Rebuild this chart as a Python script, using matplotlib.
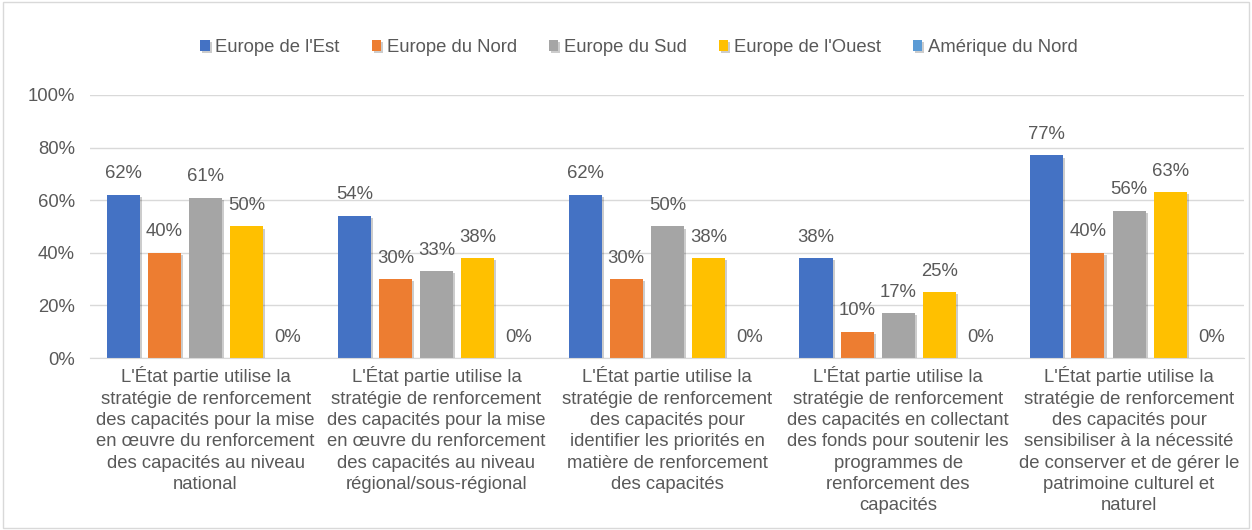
import matplotlib
matplotlib.use("Agg")
import matplotlib.pyplot as plt
import matplotlib.patheffects as pe
from matplotlib.patches import Rectangle
import numpy as np

plt.rcParams['font.family'] = ['Liberation Sans', 'DejaVu Sans']

categories = [
    "L'État partie utilise la\nstratégie de renforcement\ndes capacités pour la mise\nen œuvre du renforcement\ndes capacités au niveau\nnational",
    "L'État partie utilise la\nstratégie de renforcement\ndes capacités pour la mise\nen œuvre du renforcement\ndes capacités au niveau\nrégional/sous-régional",
    "L'État partie utilise la\nstratégie de renforcement\ndes capacités pour\nidentifier les priorités en\nmatière de renforcement\ndes capacités",
    "L'État partie utilise la\nstratégie de renforcement\ndes capacités en collectant\ndes fonds pour soutenir les\nprogrammes de\nrenforcement des\ncapacités",
    "L'État partie utilise la\nstratégie de renforcement\ndes capacités pour\nsensibiliser à la nécessité\nde conserver et de gérer le\npatrimoine culturel et\nnaturel",
]
series_names = ["Europe de l'Est", "Europe du Nord", "Europe du Sud", "Europe de l'Ouest", "Amérique du Nord"]
europe_est = [0.62, 0.54, 0.62, 0.38, 0.77]
europe_nord = [0.40, 0.30, 0.30, 0.10, 0.40]
europe_sud = [0.61, 0.33, 0.50, 0.17, 0.56]
europe_ouest = [0.50, 0.38, 0.38, 0.25, 0.63]
amerique_nord = [0.0, 0.0, 0.0, 0.0, 0.0]
colors = ["#4472C4", "#ED7D31", "#A5A5A5", "#FFC000", "#5B9BD5"]

series = [europe_est, europe_nord, europe_sud, europe_ouest, amerique_nord]
text_color = "#595959"
fs = 13.3

fig = plt.figure(figsize=(12.52, 5.30), dpi=100)
ax = fig.add_axes([0.072, 0.3245, 0.922, 0.4963])

x = np.arange(len(categories))
step = 0.178
width = 0.143
for i, (vals, name, c) in enumerate(zip(series, series_names, colors)):
    pos = x + (i - 2) * step
    bars = ax.bar(pos, vals, width=width, color=c, label=name, zorder=3)
    for b in bars:
        b.set_path_effects([pe.SimplePatchShadow(offset=(1.5, -1.5), shadow_rgbFace='#000000', alpha=0.2), pe.Normal()])
    for p, v in zip(pos, vals):
        ax.annotate(f"{v*100:.0f}%", (p, v), xytext=(0, 9), textcoords="offset points",
                    ha="center", va="bottom", fontsize=fs, color=text_color)

ax.set_ylim(0, 1)
ax.set_xlim(-0.5, len(categories) - 0.5)
ax.set_yticks(np.arange(0, 1.01, 0.2))
ax.set_yticklabels([f"{int(round(t*100))}%" for t in np.arange(0, 1.01, 0.2)])
ax.set_xticks(x)
ax.set_xticklabels(categories, fontsize=fs, color=text_color, linespacing=1.33)
ax.tick_params(axis='both', length=0, labelsize=fs, labelcolor=text_color)
ax.tick_params(axis='y', pad=11)
ax.tick_params(axis='x', pad=6)
ax.grid(axis='y', color='#D9D9D9', linewidth=1, zorder=0)
for s in ['top', 'right', 'left']:
    ax.spines[s].set_visible(False)
ax.spines['bottom'].set_color('#D9D9D9')
ax.spines['bottom'].set_zorder(4)

leg = fig.legend(loc='center', bbox_to_anchor=(0.5104, 0.91), ncol=5, frameon=False,
                 fontsize=fs, handlelength=0.5, handleheight=0.5, handletextpad=0.3,
                 columnspacing=1.75)
for t in leg.get_texts():
    t.set_color(text_color)

fig.patches.append(Rectangle((0.002, 0.003), 0.996, 0.994, transform=fig.transFigure,
                             fill=False, edgecolor='#D9D9D9', linewidth=1))

fig.savefig("out.png", dpi=100, facecolor="white")
